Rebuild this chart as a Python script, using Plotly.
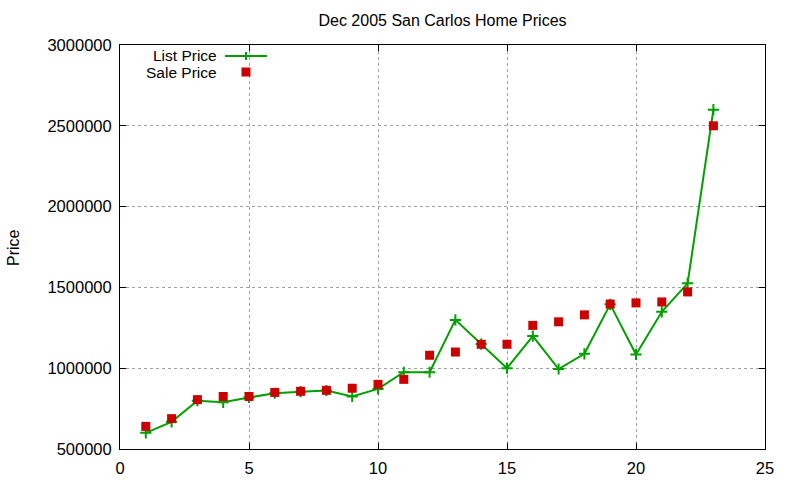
import plotly.graph_objects as go

house = list(range(1, 24))
list_price = [600000, 668000, 799000, 789000, 819000, 845000, 855000, 862000, 825000, 872000,
              975000, 975000, 1299000, 1149000, 1000000, 1199000, 995000, 1089000, 1395000,
              1085000, 1349000, 1525000, 2600000]
sale_price = [640000, 688000, 805000, 825000, 825000, 850000, 857000, 863000, 876000, 900000,
              931000, 1080000, 1100000, 1148000, 1148000, 1265000, 1287000, 1330000, 1397000,
              1404000, 1410000, 1472000, 2500000]

title = "Dec 2005 San Carlos Home Prices"
x_ticks = [0, 5, 10, 15, 20, 25]
y_ticks = [500000, 1000000, 1500000, 2000000, 2500000, 3000000]

GREEN = "#00a000"
RED = "#cc0000"
FONT = "Liberation Sans, Arial, sans-serif"

fig = go.Figure()
fig.add_trace(go.Scatter(
    x=house, y=list_price, mode="lines+markers", name="List Price",
    line=dict(color=GREEN, width=2),
    marker=dict(symbol="cross-thin", size=8, line=dict(color=GREEN, width=2)),
    showlegend=False,
))
fig.add_trace(go.Scatter(
    x=house, y=sale_price, mode="markers", name="Sale Price",
    marker=dict(symbol="square", size=9, color=RED, line=dict(width=0)),
    showlegend=False,
))

# manual legend (text left of key, like gnuplot)
W, H = 645, 404
def px(xp):
    return (xp - 120) / W
def py(yp):
    return (449 - yp) / H

shapes = [
    dict(type="line", xref="paper", yref="paper", x0=px(225), x1=px(267), y0=py(56), y1=py(56),
         line=dict(color=GREEN, width=2)),
    dict(type="line", xref="paper", yref="paper", xsizemode="pixel", ysizemode="pixel",
         xanchor=px(246), yanchor=py(56), x0=0, x1=0, y0=-4, y1=4, line=dict(color=GREEN, width=2)),
    dict(type="rect", xref="paper", yref="paper", xsizemode="pixel", ysizemode="pixel",
         xanchor=px(246), yanchor=py(72), x0=-4.5, x1=4.5, y0=-4.5, y1=4.5,
         fillcolor=RED, line=dict(width=0)),
]
annotations = [
    dict(text="List Price", xref="paper", yref="paper", x=px(218), y=py(55), xanchor="right",
         yanchor="middle", showarrow=False, borderpad=0,
         font=dict(family=FONT, size=15.5, color="black")),
    dict(text="Sale Price", xref="paper", yref="paper", x=px(218), y=py(73), xanchor="right",
         yanchor="middle", showarrow=False, borderpad=0,
         font=dict(family=FONT, size=15.5, color="black")),
    dict(text="Price", xref="paper", yref="paper", x=-(120 - 13) / W, y=py(247), textangle=-90,
         xanchor="center", yanchor="middle", showarrow=False,
         font=dict(family=FONT, size=16, color="black")),
]

axis_common = dict(
    showline=True, linecolor="black", linewidth=1, mirror="allticks",
    ticks="inside", ticklen=6, tickcolor="black", tickwidth=1,
    showgrid=True, gridcolor="#a0a0a0", griddash="dot", gridwidth=1,
    zeroline=False, automargin=False, ticklabelstandoff=4,
    tickfont=dict(family=FONT, size=16.5, color="black"),
)

fig.update_layout(
    width=800, height=480,
    margin=dict(l=120, r=35, t=45, b=31),
    paper_bgcolor="white", plot_bgcolor="white",
    title=dict(text=title, x=0.5, xref="paper", y=1 - 20 / 480, yanchor="middle",
               automargin=False, font=dict(family=FONT, size=16, color="black")),
    xaxis=dict(range=[0, 25], tickvals=x_ticks, ticktext=[str(v) for v in x_ticks], **axis_common),
    yaxis=dict(range=[500000, 3000000], tickvals=y_ticks, ticktext=[str(v) for v in y_ticks],
               **axis_common),
    shapes=shapes, annotations=annotations,
)

fig.write_html("out.html", config={"displayModeBar": False},
               post_script="document.body.style.margin='0';")
